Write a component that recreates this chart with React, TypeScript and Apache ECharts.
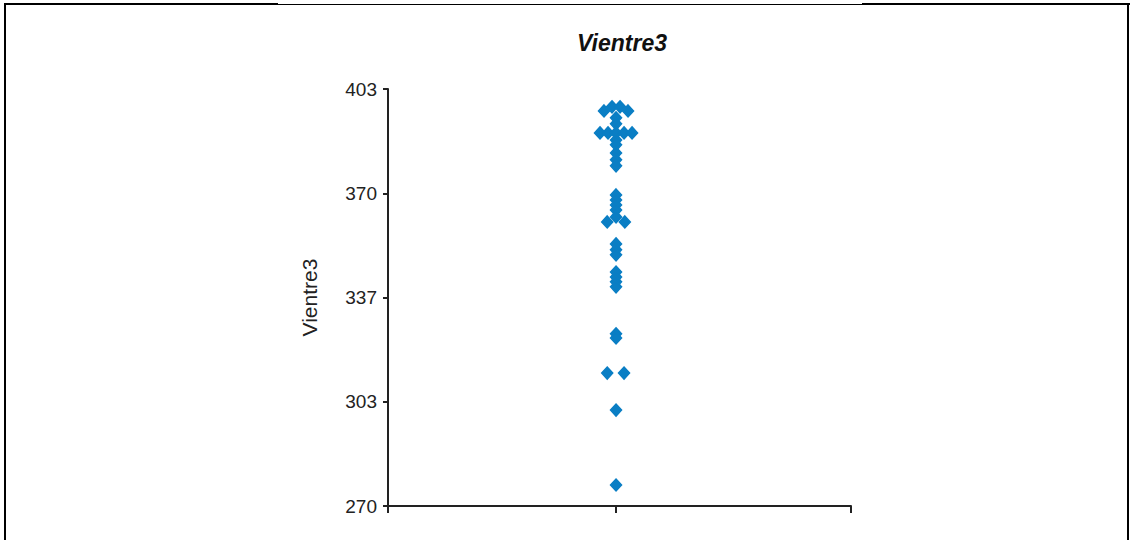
import React, { useEffect, useRef } from 'react';
import * as echarts from 'echarts';

const TITLE = 'Vientre3';
const Y_NAME = 'Vientre3';
const Y_MIN = 270;
const Y_MAX = 403;
const Y_STEP = 33.25;

// measured values (one per dot)
const values = [
  397.3, 397.3, 396.0, 396.0, 393.8, 391.9,
  389.0, 389.0, 389.0, 389.0, 389.0,
  386.7, 385.2, 382.6, 380.4, 378.5,
  369.2, 367.6, 366.0, 364.4, 362.2, 360.6, 360.6,
  353.6, 351.7, 350.1,
  344.6, 343.0, 341.5, 339.9,
  324.9, 323.6,
  312.4, 312.4,
  300.6,
  276.7,
];
// swarm column of each dot (side-by-side slots)
const slots = [
  -0.5, 0.5, -1.5, 1.5, 0, 0,
  -2, -1, 0, 1, 2,
  0, 0, 0, 0, 0,
  0, 0, 0, 0, 0, -1.1, 1.1,
  0, 0, 0,
  0, 0, 0, 0,
  0, 0,
  -1.1, 1.0,
  0,
  0,
];

const CENTER = 0.985;
const SLOT_W = 0.0346;

export default function App() {
  const ref = useRef<HTMLDivElement>(null);
  useEffect(() => {
    if (!ref.current) return;
    const chart = echarts.init(ref.current, null, { renderer: 'svg' });
    const data = values.map((v, i) => [CENTER + slots[i] * SLOT_W, v - Y_MIN]);
    const black = '#000';
    chart.setOption({
      animation: false,
      backgroundColor: '#fff',
      title: {
        text: TITLE,
        left: 617,
        top: 26,
        textAlign: 'center',
        textStyle: {
          fontFamily: 'Liberation Sans, Arial, sans-serif',
          fontSize: 23,
          fontWeight: 'bold',
          fontStyle: 'italic',
          color: '#111',
        },
      },
      grid: { left: 388, right: 279, top: 89, bottom: 34, containLabel: false },
      xAxis: {
        type: 'value',
        min: 0,
        max: 2,
        interval: 1,
        axisLine: { show: true, lineStyle: { color: '#222', width: 2 } },
        axisTick: { show: true, length: 7, lineStyle: { color: '#222', width: 2 }, customValues: [0, CENTER, 2] },
        axisLabel: { show: false },
        splitLine: { show: false },
      },
      yAxis: {
        type: 'value',
        min: 0,
        max: Y_MAX - Y_MIN,
        interval: Y_STEP,
        name: Y_NAME,
        nameLocation: 'middle',
        nameGap: 68,
        nameTextStyle: {
          fontFamily: 'Liberation Sans, Arial, sans-serif',
          fontSize: 21,
          color: '#222',
        },
        axisLine: { show: true, lineStyle: { color: '#222', width: 2 } },
        axisTick: { show: true, length: 5, lineStyle: { color: '#222', width: 2 } },
        axisLabel: {
          margin: 11,
          fontFamily: 'Liberation Sans, Arial, sans-serif',
          fontSize: 19,
          color: '#222',
          formatter: (v: number) => String(Math.round(v + Y_MIN)),
        },
        splitLine: { show: false },
      },
      series: [
        {
          type: 'scatter',
          symbol: 'diamond',
          symbolSize: [11, 12],
          itemStyle: { color: '#0a7ec4', opacity: 1, borderColor: '#0a7ec4', borderWidth: 1.5 },
          data,
        },
      ],
      graphic: [
        { type: 'rect', shape: { x: 4, y: 3, width: 274, height: 2 }, style: { fill: black } },
        { type: 'rect', shape: { x: 278, y: 4, width: 585, height: 1 }, style: { fill: black } },
        { type: 'rect', shape: { x: 862, y: 3, width: 268, height: 2 }, style: { fill: black } },
        { type: 'rect', shape: { x: 4, y: 3, width: 2, height: 537 }, style: { fill: black } },
        { type: 'rect', shape: { x: 1127, y: 3, width: 2, height: 537 }, style: { fill: black } },
      ],
    });
    return () => chart.dispose();
  }, []);
  return (
    <div
      ref={ref}
      style={{ position: 'absolute', left: 0, top: 0, width: 1130, height: 540 }}
    />
  );
}
